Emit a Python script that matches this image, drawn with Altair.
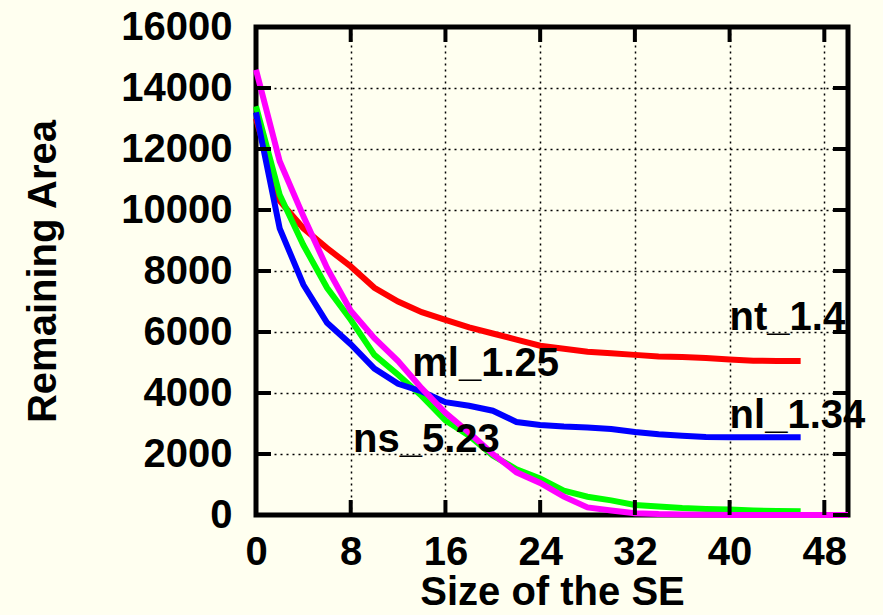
import altair as alt
import pandas as pd

# ---- data ----
size_se = [0, 2, 4, 6, 8, 10, 12, 14, 16, 18, 20, 22, 24, 26, 28, 30, 32, 34, 36, 38, 40, 42, 44, 46, 48, 50]
nt_red = [13000, 10300, 9400, 8750, 8150, 7450, 7000, 6650, 6400, 6150, 5950, 5750,
          5550, 5450, 5350, 5300, 5250, 5200, 5180, 5150, 5100, 5060, 5050, 5050]
nl_blue = [13200, 9400, 7550, 6300, 5600, 4800, 4300, 4050, 3700, 3580, 3420, 3050,
           2950, 2900, 2870, 2820, 2720, 2650, 2600, 2560, 2550, 2550, 2550, 2550]
ml_green = [13400, 10500, 8850, 7450, 6400, 5250, 4600, 3900, 3100, 2600, 1950, 1500,
            1200, 800, 600, 480, 330, 280, 230, 200, 180, 150, 130, 120]
ns_magenta = [14600, 11600, 9800, 8100, 6700, 5800, 5050, 4150, 3350, 2700, 2000, 1400,
              1050, 600, 250, 150, 60, 30, 20, 10, 0, 0, 0, 0, 0, 0]

series_names = ["nt_1.4", "ml_1.25", "nl_1.34", "ns_5.23"]
series_values = [nt_red, ml_green, nl_blue, ns_magenta]
series_colors = ["#FF0000", "#00FF00", "#0000FF", "#FF00FF"]

label_texts = ["nt_1.4", "nl_1.34", "ml_1.25", "ns_5.23"]
label_x = [40.0, 40.0, 13.2, 8.2]
label_y = [6070, 2860, 4560, 2070]

x_ticks = [0, 8, 16, 24, 32, 40, 48]
y_ticks = [0, 2000, 4000, 6000, 8000, 10000, 12000, 14000, 16000]

FONT = "Liberation Sans"
W, H = 592, 488
TICK = 15

xscale = alt.Scale(domain=[0, 50], nice=False, zero=False)
yscale = alt.Scale(domain=[0, 16000], nice=False)

xaxis = alt.Axis(values=x_ticks, grid=True, gridDash=[2, 4], gridColor="black", gridWidth=1.5,
                 gridOpacity=1, ticks=False, domain=False, labelFlush=False,
                 labelFont=FONT, labelFontSize=40, labelFontWeight="bold", labelColor="black",
                 labelPadding=17, title="Size of the SE", titleFont=FONT, titleFontSize=40,
                 titleFontWeight="bold", titleColor="black", titlePadding=0)
yaxis = alt.Axis(values=y_ticks, grid=True, gridDash=[2, 4], gridColor="black", gridWidth=1.5,
                 gridOpacity=1, ticks=False, domain=False, format="d", labelFlush=False,
                 labelFont=FONT, labelFontSize=40, labelFontWeight="bold", labelColor="black",
                 labelPadding=24, title="Remaining Area", titleFont=FONT, titleFontSize=40,
                 titleFontWeight="bold", titleColor="black", titlePadding=57)

layers = []
base_df = pd.DataFrame({"x": size_se[:len(nt_red)], "y": nt_red})
base = alt.Chart(base_df).mark_line(opacity=0).encode(
    x=alt.X("x:Q", scale=xscale, axis=xaxis),
    y=alt.Y("y:Q", scale=yscale, axis=yaxis),
)
layers.append(base)

for name, vals, col in zip(series_names, series_values, series_colors):
    df = pd.DataFrame({"x": size_se[:len(vals)], "y": vals, "s": name})
    layers.append(
        alt.Chart(df).mark_line(color=col, strokeWidth=6, strokeJoin="miter").encode(
            x=alt.X("x:Q", scale=xscale), y=alt.Y("y:Q", scale=yscale)
        )
    )

lab_df = pd.DataFrame({"t": label_texts, "x": label_x, "y": label_y})
layers.append(
    alt.Chart(lab_df).mark_text(align="left", baseline="alphabetic", font=FONT, fontSize=40,
                                fontWeight="bold", color="black").encode(
        x=alt.X("x:Q", scale=xscale), y=alt.Y("y:Q", scale=yscale), text="t:N")
)

# inward tick marks on all four sides
xt_df = pd.DataFrame({"v": x_ticks})
yt_df = pd.DataFrame({"v": y_ticks})
layers.append(alt.Chart(xt_df).mark_rule(color="black", strokeWidth=4).encode(
    x=alt.X("v:Q", scale=xscale), y=alt.value(H), y2=alt.value(H - TICK)))
layers.append(alt.Chart(xt_df).mark_rule(color="black", strokeWidth=4).encode(
    x=alt.X("v:Q", scale=xscale), y=alt.value(0), y2=alt.value(TICK)))
layers.append(alt.Chart(yt_df).mark_rule(color="black", strokeWidth=4).encode(
    y=alt.Y("v:Q", scale=yscale), x=alt.value(0), x2=alt.value(TICK)))
layers.append(alt.Chart(yt_df).mark_rule(color="black", strokeWidth=4).encode(
    y=alt.Y("v:Q", scale=yscale), x=alt.value(W), x2=alt.value(W - TICK)))

chart = alt.layer(*layers).properties(
    width=W, height=H,
    background="#FFFFF0",
    padding={"left": 256, "top": 27, "right": 35, "bottom": 100},
    autosize=alt.AutoSizeParams(type="none"),
).configure_view(stroke="black", strokeWidth=5, fill="#FFFFF0")

chart.save("out.html", embed_options={"renderer": "svg", "actions": False})
